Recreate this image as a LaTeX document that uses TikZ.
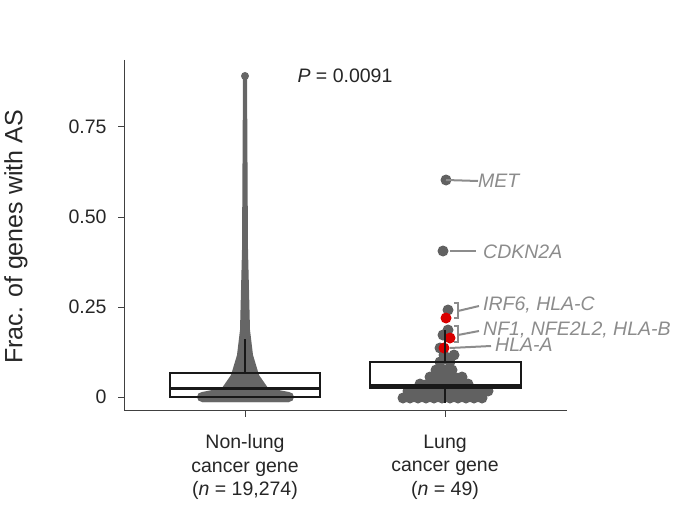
\documentclass[tikz,border=0pt]{standalone}
\usepackage{fontspec}
\setmainfont{Liberation Sans}
\begin{document}
\begin{tikzpicture}[x=1pt,y=-1pt,
 ax/.style={line width=1pt,black!75},
 tl/.style={font=\fontsize{19.5}{23.5}\selectfont,text=black!85},
 gl/.style={font=\fontsize{19.5}{21}\selectfont\itshape,text=black!45,anchor=west,inner sep=0},
 gline/.style={line width=2pt,black!45},
 dot/.style={fill=black!62},
 rdot/.style={fill=red!85!black},
 bx/.style={line width=1.8pt,black!90}]
\useasboundingbox (0,0) rectangle (685,532);
% axes
\draw[ax] (124,60) -- (124,410) -- (567,410);
\foreach \v/\l in {0/0,0.25/0.25,0.5/0.50,0.75/0.75}{
  \draw[ax] (118,{397-360*\v}) -- (124,{397-360*\v});
  \node[tl,anchor=east] (t\l) at (110,{397-360*\v}) {\l};}
\draw[ax] (245,410) -- (245,417);
\draw[ax] (445,410) -- (445,417);
\node[tl,rotate=90,font=\fontsize{25}{28}\selectfont] (ylab) at (16,237) {Frac. of genes with AS};
\node[tl,align=center] (x1) at (245,467) {Non-lung\\cancer gene\\(\textit{n} = 19,274)};
\node[tl,align=center] (x2) at (445,467) {Lung\\cancer gene\\(\textit{n} = 49)};
\node[tl] (p) at (345,76) {\textit{P} = 0.0091};
% violin-like swarm
\fill[black!60] (243,76) -- (247,76) -- (248,250) -- (250,330) -- (253,355) -- (259,375) -- (268,388) -- (289,392)
  -- (289,402) -- (202,402) -- (202,392) -- (222,388) -- (231,375) -- (237,355) -- (240,330) -- (242,250) -- cycle;
\fill[black!60,rounded corners=5pt] (197,392) rectangle (294,402);
\fill[black!60] (245,76) circle (4);
% box non-lung
\draw[bx] (170,373) rectangle (320,397);
\draw[line width=3pt,black!90] (170,388) -- (320,388);
\draw[bx] (245,373) -- (245,339);
% lung swarm
\foreach \x/\y in {403/398, 410/398, 418/398, 426/398, 434/398, 442/398, 450/398, 458/398, 466/398, 474/398, 482/398,
 408/391, 416/391, 424/391, 432/391, 440/391, 448/391, 456/391, 464/391, 472/391, 480/391, 488/391,
 420/384, 428/384, 436/384, 444/384, 452/384, 460/384, 468/384,
 430/377, 438/377, 446/377, 454/377, 462/377,
 436/370, 444/370, 452/370, 440/362, 450/362,
 444/355, 454/355, 440/348,
 443/335, 448/330, 448/310, 443/251, 446/180}{
 \fill[dot] (\x,\y) circle (5.5);}
\fill[rdot] (446,318) circle (5.5);
\fill[rdot] (450,338) circle (5.5);
\fill[rdot] (444,348) circle (5.5);
% box lung
\draw[bx] (370,362) rectangle (521,388);
\draw[line width=3pt,black!90] (370,385) -- (521,385);
\draw[bx] (445,362) -- (445,330);
\draw[bx] (445,388) -- (445,403);
% labels
\node[gl] (met) at (478,181) {MET};
\draw[gline] (446,180) -- (met.west);
\node[gl] (cdk) at (483,252) {CDKN2A};
\draw[gline] (450,251) -- (476,251);
\node[gl] (irf) at (483,305) {IRF6, HLA-C};
\draw[gline] (454,303) -- (458,303) -- (458,318) -- (454,318);
\draw[gline] (458,311) -- (479,306);
\node[gl] (nf1) at (483,330) {NF1, NFE2L2, HLA-B};
\draw[gline] (454,326) -- (458,326) -- (458,342) -- (454,342);
\draw[gline] (458,335) -- (479,331);
\node[gl] (hla) at (495,345) {HLA-A};
\draw[gline] (450,348) -- (491,346);
\end{tikzpicture}
\end{document}
